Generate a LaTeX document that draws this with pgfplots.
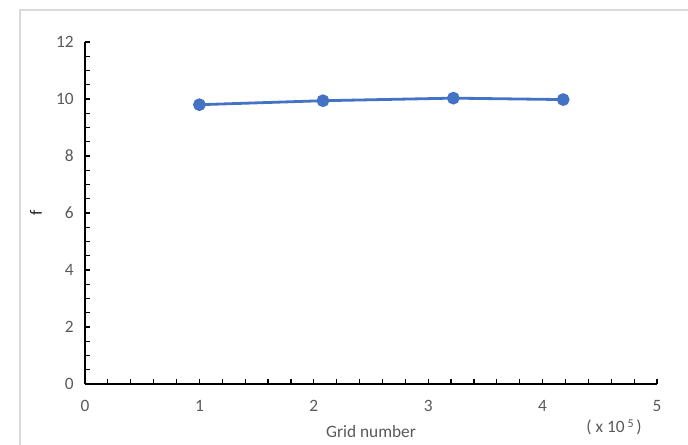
\documentclass[border=0pt]{standalone}
\usepackage{pgfplots}
\pgfplotsset{compat=1.18}
\usepackage{fontspec}
\setmainfont{Carlito}
\definecolor{xlblue}{HTML}{4472C4}
\definecolor{txtgray}{HTML}{595959}
\begin{document}
\begin{tikzpicture}
\useasboundingbox (0pt,0pt) rectangle (516pt,333pt);
\draw[black!15, line width=1.2pt] (15pt,-10pt) -- (15pt,325.5pt) -- (530pt,325.5pt);
\begin{axis}[
  at={(63.75pt,45pt)}, anchor=south west,
  scale only axis, width=429pt, height=256.5pt,
  xmin=0, xmax=5, ymin=0, ymax=12,
  axis lines*=left,
  axis line style={black, line width=1.1pt},
  xtick={0,1,2,3,4,5}, ytick={0,2,4,6,8,10,12},
  minor x tick num=4, minor y tick num=3,
  tick align=inside,
  major tick length=4pt, minor tick length=4pt,
  every tick/.style={black, line width=0.9pt},
  tick label style={font=\fontsize{13}{15}\selectfont, text=txtgray},
  xticklabel style={yshift=-9pt},
  yticklabel style={xshift=-5pt},
  /pgf/number format/assume math mode=true,
  xlabel={Grid number},
  label style={font=\fontsize{13}{15}\selectfont, text=txtgray},
  xlabel style={at={(axis description cs:0.5,-0.14)}, anchor=center},
  clip=false,
]
\addplot[xlblue, line width=2.1pt, mark=*, mark size=3.7pt, mark options={fill=xlblue, draw=xlblue, solid}] coordinates {(1.0,9.8) (2.08,9.94) (3.22,10.03) (4.18,9.98)};
\node[rotate=90, anchor=center, font=\fontsize{13}{15}\selectfont, text=black!85] at (axis description cs:-0.0857,0.5) {f};
\node[font=\fontsize{13}{15}\selectfont, text=txtgray] at (axis description cs:0.925,-0.128) {( x 10\,\raisebox{0.6ex}{\fontsize{9}{10}\selectfont 5}\,)};
\end{axis}
\end{tikzpicture}
\end{document}
